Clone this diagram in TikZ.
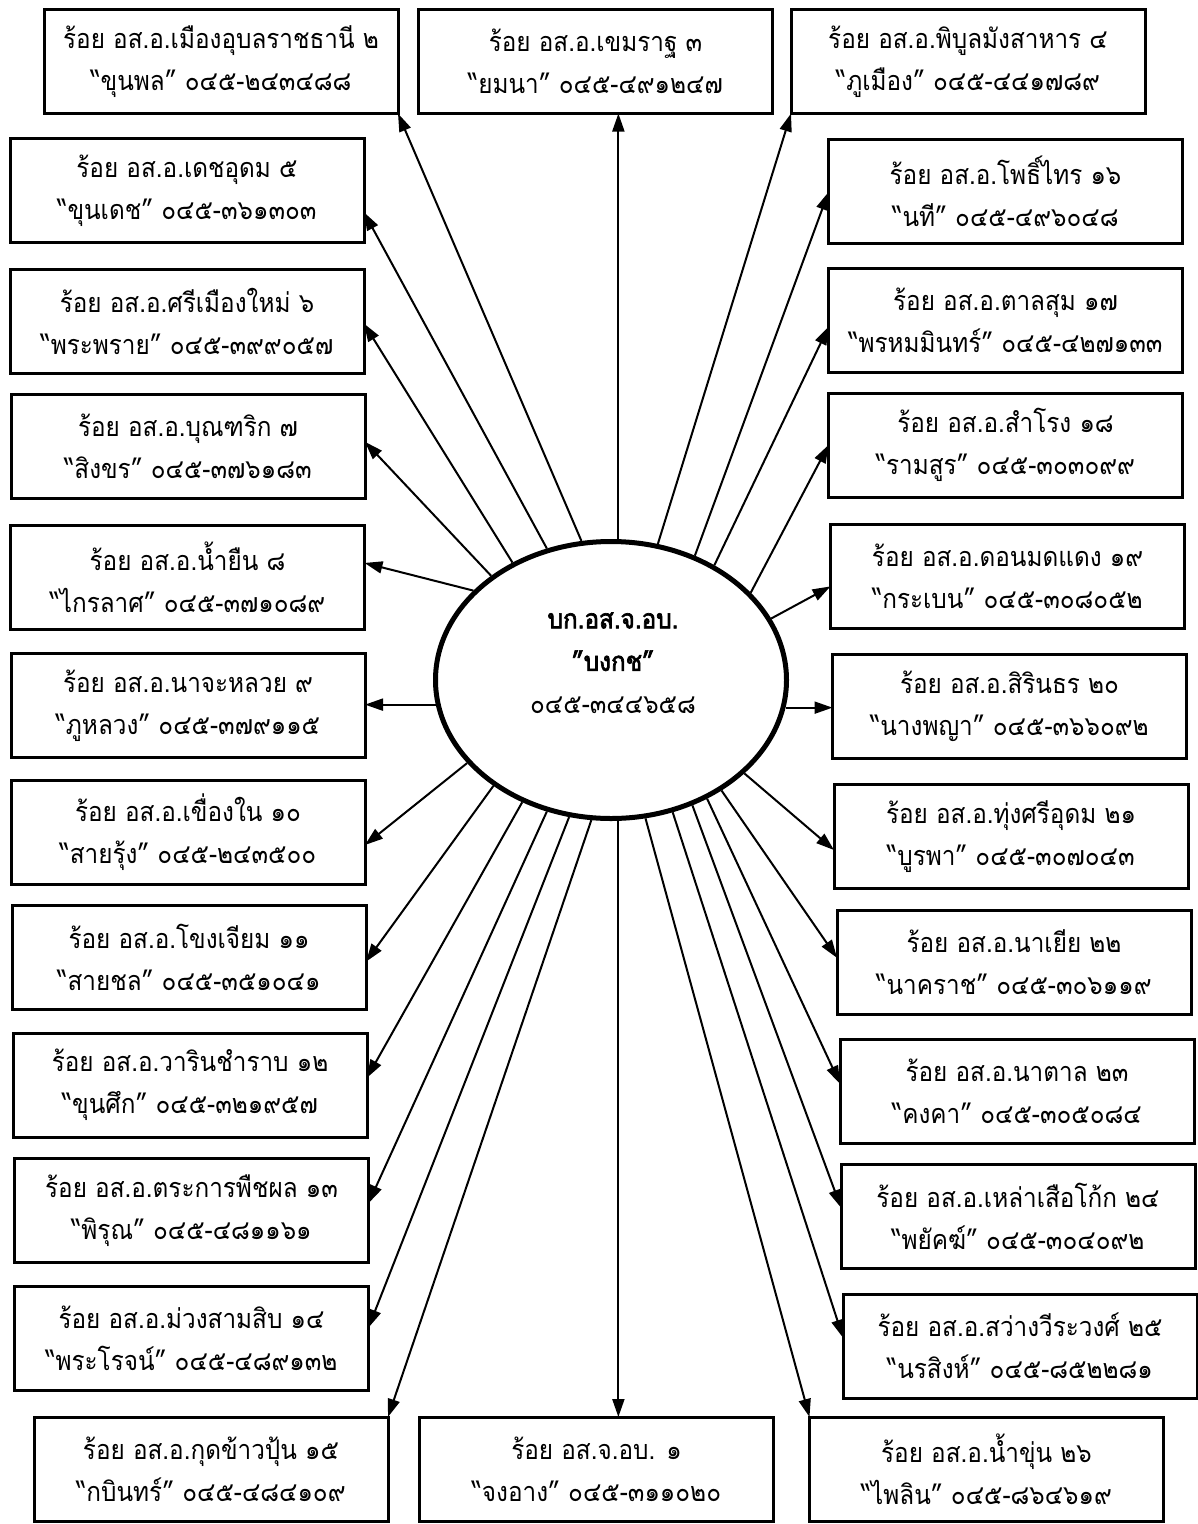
\documentclass[tikz,border=0pt]{standalone}
\usepackage{fontspec}
\newfontfamily\thai[Script=Thai,FakeStretch=0.9]{Loma}
\newfontfamily\thaibold[Script=Thai,FakeStretch=0.9,FakeBold=2.5]{Loma}
\usetikzlibrary{shapes.geometric,arrows.meta,calc}
\begin{document}
\begin{tikzpicture}[x=1pt,y=-1pt,
  box/.style={draw,line width=3pt,inner sep=0pt,outer sep=0pt,align=center,
    minimum width=354pt,minimum height=104pt,font=\thai\fontsize{27}{42}\selectfont},
  hubst/.style={draw,ellipse,line width=5pt,inner sep=0pt,
    minimum width=351pt,minimum height=277pt},
  hubtext/.style={inner sep=0pt,align=center,font=\thai\fontsize{27}{42.5}\selectfont},
  arr/.style={line width=2pt,-{Triangle[length=18pt,width=12pt]}}]
\useasboundingbox (0,0) rectangle (1198,1524);
\fill[white] (0,0) rectangle (1198,1524);
% hub
\node[hubst] (hub) at (611,680) {};
\node[hubtext] (hubt) at (613,663) {{\thaibold บก.อส.จ.อบ.}\\{\thaibold ”บงกช”}\\๐๔๕-๓๔๔๖๕๘};
% top row
\node[box] (b2) at (221,61.5) {ร้อย อส.อ.เมืองอุบลราชธานี ๒\\“ขุนพล” ๐๔๕-๒๔๓๔๘๘};
\node[box] (b3) at (595.5,61.5) {ร้อย อส.อ.เขมราฐ ๓\\“ยมนา” ๐๔๕-๔๙๑๒๔๗};
\node[box] (b4) at (968,61.5) {ร้อย อส.อ.พิบูลมังสาหาร ๔\\“ภูเมือง” ๐๔๕-๔๔๑๗๘๙};
% left column
\node[box] (b5) at (187,190.5) {ร้อย อส.อ.เดชอุดม ๕\\“ขุนเดช” ๐๔๕-๓๖๑๓๐๓};
\node[box] (b6) at (187,321.5) {ร้อย อส.อ.ศรีเมืองใหม่ ๖\\“พระพราย” ๐๔๕-๓๙๙๐๕๗};
\node[box] (b7) at (188,446) {ร้อย อส.อ.บุณฑริก ๗\\“สิงขร” ๐๔๕-๓๗๖๑๘๓};
\node[box] (b8) at (187.5,577.5) {ร้อย อส.อ.น้ำยืน ๘\\“ไกรลาศ” ๐๔๕-๓๗๑๐๘๙};
\node[box] (b9) at (188,705.5) {ร้อย อส.อ.นาจะหลวย ๙\\“ภูหลวง” ๐๔๕-๓๗๙๑๑๕};
\node[box] (b10) at (188,832.5) {ร้อย อส.อ.เขื่องใน ๑๐\\“สายรุ้ง” ๐๔๕-๒๔๓๕๐๐};
\node[box] (b11) at (189,957.5) {ร้อย อส.อ.โขงเจียม ๑๑\\“สายชล” ๐๔๕-๓๕๑๐๔๑};
\node[box] (b12) at (190,1085) {ร้อย อส.อ.วารินชำราบ ๑๒\\“ขุนศึก” ๐๔๕-๓๒๑๙๕๗};
\node[box] (b13) at (191.5,1210.5) {ร้อย อส.อ.ตระการพืชผล ๑๓\\“พิรุณ” ๐๔๕-๔๘๑๑๖๑};
\node[box] (b14) at (191.5,1338) {ร้อย อส.อ.ม่วงสามสิบ ๑๔\\“พระโรจน์” ๐๔๕-๔๘๙๑๓๒};
% bottom row
\node[box] (b15) at (211,1469) {ร้อย อส.อ.กุดข้าวปุ้น ๑๕\\“กบินทร์” ๐๔๕-๔๘๔๑๐๙};
\node[box] (b1) at (596.5,1469) {ร้อย อส.จ.อบ. ๑\\“จงอาง” ๐๔๕-๓๑๑๐๒๐};
\node[box] (b26) at (986.5,1469) {ร้อย อส.อ.น้ำขุ่น ๒๖\\“ไพลิน” ๐๔๕-๘๖๔๖๑๙};
% right column
\node[box] (b16) at (1005.5,191) {ร้อย อส.อ.โพธิ์ไทร ๑๖\\“นที” ๐๔๕-๔๙๖๐๔๘};
\node[box] (b17) at (1005.5,320.5) {ร้อย อส.อ.ตาลสุม ๑๗\\“พรหมมินทร์” ๐๔๕-๔๒๗๑๓๓};
\node[box] (b18) at (1005.5,445) {ร้อย อส.อ.สำโรง ๑๘\\“รามสูร” ๐๔๕-๓๐๓๐๙๙};
\node[box] (b19) at (1007.5,576) {ร้อย อส.อ.ดอนมดแดง ๑๙\\“กระเบน” ๐๔๕-๓๐๘๐๕๒};
\node[box] (b20) at (1009.5,706) {ร้อย อส.อ.สิรินธร ๒๐\\“นางพญา” ๐๔๕-๓๖๖๐๙๒};
\node[box] (b21) at (1011,836.5) {ร้อย อส.อ.ทุ่งศรีอุดม ๒๑\\“บูรพา” ๐๔๕-๓๐๗๐๔๓};
\node[box] (b22) at (1014,962) {ร้อย อส.อ.นาเยีย ๒๒\\“นาคราช” ๐๔๕-๓๐๖๑๑๙};
\node[box] (b23) at (1017,1091) {ร้อย อส.อ.นาตาล ๒๓\\“คงคา” ๐๔๕-๓๐๕๐๘๔};
\node[box] (b24) at (1018,1216) {ร้อย อส.อ.เหล่าเสือโก้ก ๒๔\\“พยัคฆ์” ๐๔๕-๓๐๔๐๙๒};
\node[box] (b25) at (1020,1346) {ร้อย อส.อ.สว่างวีระวงศ์ ๒๕\\“นรสิงห์” ๐๔๕-๘๕๒๒๘๑};
% connectors
\draw[arr] (hub.102) -- (b2.south east);
\draw[arr] (hub.87) -- (hub.87 |- b3.south);
\draw[arr] (hub.71.9) -- (b4.south west);
\draw[arr] (hub.116.4) -- ($(b5.north east)!.71!(b5.south east)$);
\draw[arr] (hub.130.8) -- ($(b6.north east)!.52!(b6.south east)$);
\draw[arr] (hub.139.3) -- ($(b7.north east)!.46!(b7.south east)$);
\draw[arr] (hub.147.5) -- ($(b8.north east)!.36!(b8.south east)$);
\draw[arr] (hub.188.1) -- (hub.188.1 -| b9.east);
\draw[arr] (hub.210.1) -- ($(b10.north east)!.62!(b10.south east)$);
\draw[arr] (hub.222) -- ($(b11.north east)!.54!(b11.south east)$);
\draw[arr] (hub.234) -- ($(b12.north east)!.43!(b12.south east)$);
\draw[arr] (hub.244.3) -- ($(b13.north east)!.43!(b13.south east)$);
\draw[arr] (hub.253.7) -- ($(b14.north east)!.40!(b14.south east)$);
\draw[arr] (hub.262.8) -- (b15.north east);
\draw[arr] (hub.273) -- (hub.273 |- b1.north);
\draw[arr] (hub.284.8) -- (b26.north west);
\draw[arr] (hub.295.7) -- ($(b25.north west)!.42!(b25.south west)$);
\draw[arr] (hub.303.4) -- ($(b24.north west)!.42!(b24.south west)$);
\draw[arr] (hub.309.1) -- ($(b23.north west)!.43!(b23.south west)$);
\draw[arr] (hub.315.2) -- ($(b22.north west)!.46!(b22.south west)$);
\draw[arr] (hub.325.4) -- ($(b21.north west)!.63!(b21.south west)$);
\draw[arr] (hub.351.9) -- (hub.351.9 -| b20.west);
\draw[arr] (hub.21.5) -- ($(b19.north west)!.60!(b19.south west)$);
\draw[arr] (hub.32.9) -- ($(b18.north west)!.50!(b18.south west)$);
\draw[arr] (hub.48.1) -- ($(b17.north west)!.56!(b17.south west)$);
\draw[arr] (hub.56.4) -- ($(b16.north west)!.51!(b16.south west)$);
\end{tikzpicture}
\end{document}
